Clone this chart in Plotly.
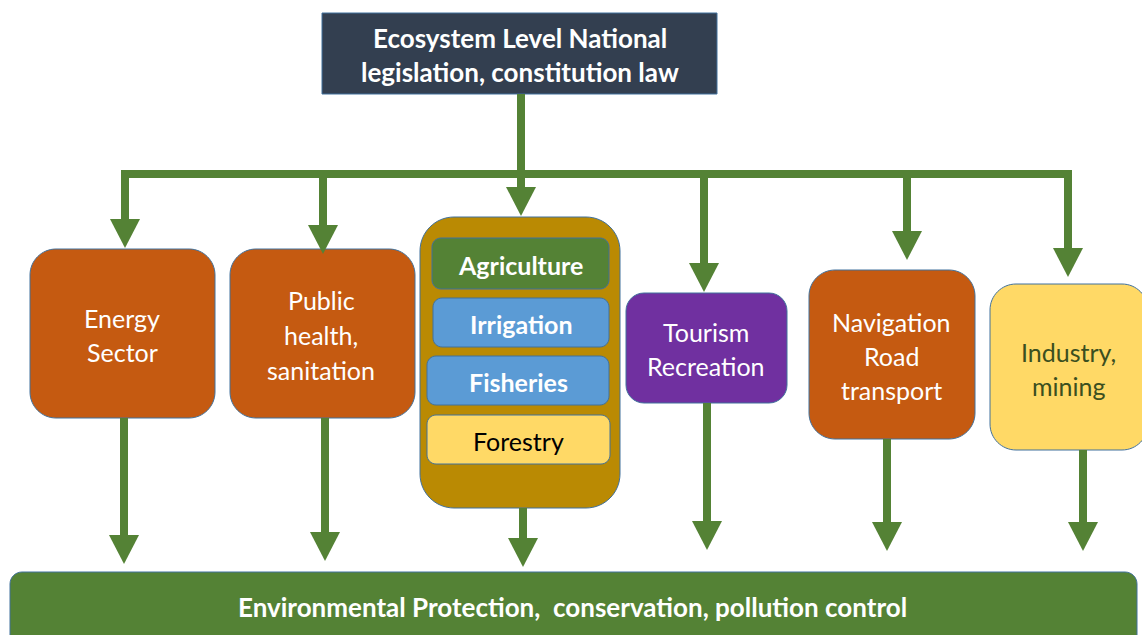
import plotly.graph_objects as go

# ---------------- content (text) ----------------
top_title_lines = ["Ecosystem Level National", "legislation, constitution law"]
sector_names = ["Energy Sector", "Public health, sanitation", "Agriculture group",
                "Tourism Recreation", "Navigation Road transport", "Industry, mining"]
sector_lines = [["Energy", "Sector"],
                ["Public", "health,", "sanitation"],
                [],
                ["Tourism", "Recreation"],
                ["Navigation", "Road", "transport"],
                ["Industry,", "mining"]]
sub_sectors = ["Agriculture", "Irrigation", "Fisheries", "Forestry"]
bottom_label = "Environmental Protection,  conservation, pollution control"

# ---------------- layout geometry (pixels) ----------------
W, H = 1142, 635
top_box = dict(x0=322, y0=13, x1=717, y1=94)
top_line_y = [38, 72]

sector_boxes = [
    dict(x0=30, y0=249, x1=215, y1=418, r=26),
    dict(x0=230, y0=249, x1=415, y1=418, r=26),
    dict(x0=420, y0=217, x1=620, y1=508, r=34),
    dict(x0=626, y0=293, x1=787, y1=403, r=18),
    dict(x0=809, y0=270, x1=975, y1=439, r=26),
    dict(x0=990, y0=284, x1=1148, y1=450, r=26),
]
sector_text_y = [[318, 352], [300, 335, 370], [], [332, 366], [322, 356, 390], [352, 386]]
sector_text_x = [122, 321, 520, 706, 891, 1068]

sub_boxes = [
    dict(x0=432, y0=238, x1=609, y1=289),
    dict(x0=433, y0=298, x1=609, y1=347),
    dict(x0=427, y0=356, x1=609, y1=405),
    dict(x0=427, y0=415, x1=610, y1=464),
]

bottom_box = dict(x0=10, y0=572, x1=1137, y1=650, r=12)
bottom_text_y = 607

# arrows from the bus to each sector: x, top of line, tip
down_arrows = [(125, 170, 248), (323, 170, 254), (521, 94, 216),
               (704, 170, 292), (907, 170, 260), (1068, 170, 277)]
# arrows from each sector to the bottom bar
bottom_arrows = [(124, 418, 564), (325, 418, 561), (523, 508, 567),
                 (707, 403, 550), (887, 439, 551), (1083, 450, 551)]
bus = dict(x0=121, x1=1072, y=174)

# ---------------- styles ----------------
GREEN = "#548235"
ORANGE = "#C55A11"
GOLD = "#BA8A03"
BLUE = "#5B9BD5"
YELLOW = "#FFD966"
PURPLE = "#7030A0"
NAVY = "#333F50"
EDGE = "#41719C"
sector_fill = [ORANGE, ORANGE, GOLD, PURPLE, ORANGE, YELLOW]
sector_font = ["white", "white", "white", "white", "white", "#3B4F1F"]
sub_fill = [GREEN, BLUE, BLUE, YELLOW]
sub_font = ["white", "white", "white", "black"]
sub_bold = [True, True, True, False]
FONT = "Lato"
FS = 25
FS_BOLD = 26
LW = 8
HEAD_W = 30
HEAD_H = 29


def rrect(x0, y0, x1, y1, r):
    k = 0.5523 * r
    return (f"M {x0+r},{y0} L {x1-r},{y0} C {x1-r+k},{y0} {x1},{y0+r-k} {x1},{y0+r} "
            f"L {x1},{y1-r} C {x1},{y1-r+k} {x1-r+k},{y1} {x1-r},{y1} "
            f"L {x0+r},{y1} C {x0+r-k},{y1} {x0},{y1-r+k} {x0},{y1-r} "
            f"L {x0},{y0+r} C {x0},{y0+r-k} {x0+r-k},{y0} {x0+r},{y0} Z")


shapes = []
ann = []


def arrow(x, ys, yt):
    shapes.append(dict(type="line", x0=x, x1=x, y0=ys, y1=yt - HEAD_H + 2,
                       line=dict(color=GREEN, width=LW), layer="above"))
    shapes.append(dict(type="path",
                       path=f"M {x-HEAD_W/2},{yt-HEAD_H} L {x+HEAD_W/2},{yt-HEAD_H} L {x},{yt} Z",
                       fillcolor=GREEN, line=dict(width=0), layer="above"))


# top box
shapes.append(dict(type="rect", **top_box, fillcolor=NAVY, line=dict(color=EDGE, width=1)))
for t, y in zip(top_title_lines, top_line_y):
    ann.append(dict(x=(top_box["x0"] + top_box["x1"]) / 2, y=y, text=f"<b>{t}</b>",
                    showarrow=False, font=dict(family=FONT, size=FS_BOLD, color="white")))

# bus line
shapes.append(dict(type="line", x0=bus["x0"], x1=bus["x1"], y0=bus["y"], y1=bus["y"],
                   line=dict(color=GREEN, width=LW)))

# sector boxes
for i, b in enumerate(sector_boxes):
    shapes.append(dict(type="path", path=rrect(b["x0"], b["y0"], b["x1"], b["y1"], b["r"]),
                       fillcolor=sector_fill[i], line=dict(color=EDGE, width=1)))
    for t, y in zip(sector_lines[i], sector_text_y[i]):
        ann.append(dict(x=sector_text_x[i], y=y, text=t, showarrow=False,
                        font=dict(family=FONT, size=FS, color=sector_font[i])))

# sub-sector boxes
for i, b in enumerate(sub_boxes):
    shapes.append(dict(type="path", path=rrect(b["x0"], b["y0"], b["x1"], b["y1"], 9),
                       fillcolor=sub_fill[i], line=dict(color=EDGE, width=1)))
    txt = f"<b>{sub_sectors[i]}</b>" if sub_bold[i] else sub_sectors[i]
    ann.append(dict(x=(b["x0"] + b["x1"]) / 2, y=(b["y0"] + b["y1"]) / 2 + 1, text=txt,
                    showarrow=False, font=dict(family=FONT, size=FS, color=sub_font[i])))

# bottom bar
b = bottom_box
shapes.append(dict(type="path", path=rrect(b["x0"], b["y0"], b["x1"], b["y1"], b["r"]),
                   fillcolor=GREEN, line=dict(color=EDGE, width=1)))
ann.append(dict(x=572, y=bottom_text_y, text=f"<b>{bottom_label}</b>",
                showarrow=False, font=dict(family=FONT, size=FS_BOLD, color="white")))

for x, ys, yt in down_arrows:
    arrow(x, ys, yt)
for x, ys, yt in bottom_arrows:
    arrow(x, ys, yt)

fig = go.Figure()
fig.add_trace(go.Scatter(x=[0, W], y=[0, H], mode="markers", marker=dict(opacity=0),
                         hoverinfo="skip", showlegend=False))
fig.update_layout(
    width=W, height=H, margin=dict(l=0, r=0, t=0, b=0),
    paper_bgcolor="white", plot_bgcolor="white",
    xaxis=dict(range=[0, W], visible=False, fixedrange=True),
    yaxis=dict(range=[H, 0], visible=False, fixedrange=True),
    shapes=shapes, annotations=ann, showlegend=False,
)
fig.write_html("out.html", config={"displayModeBar": False},
               post_script="document.body.style.margin='0px';document.body.style.overflow='hidden';")
